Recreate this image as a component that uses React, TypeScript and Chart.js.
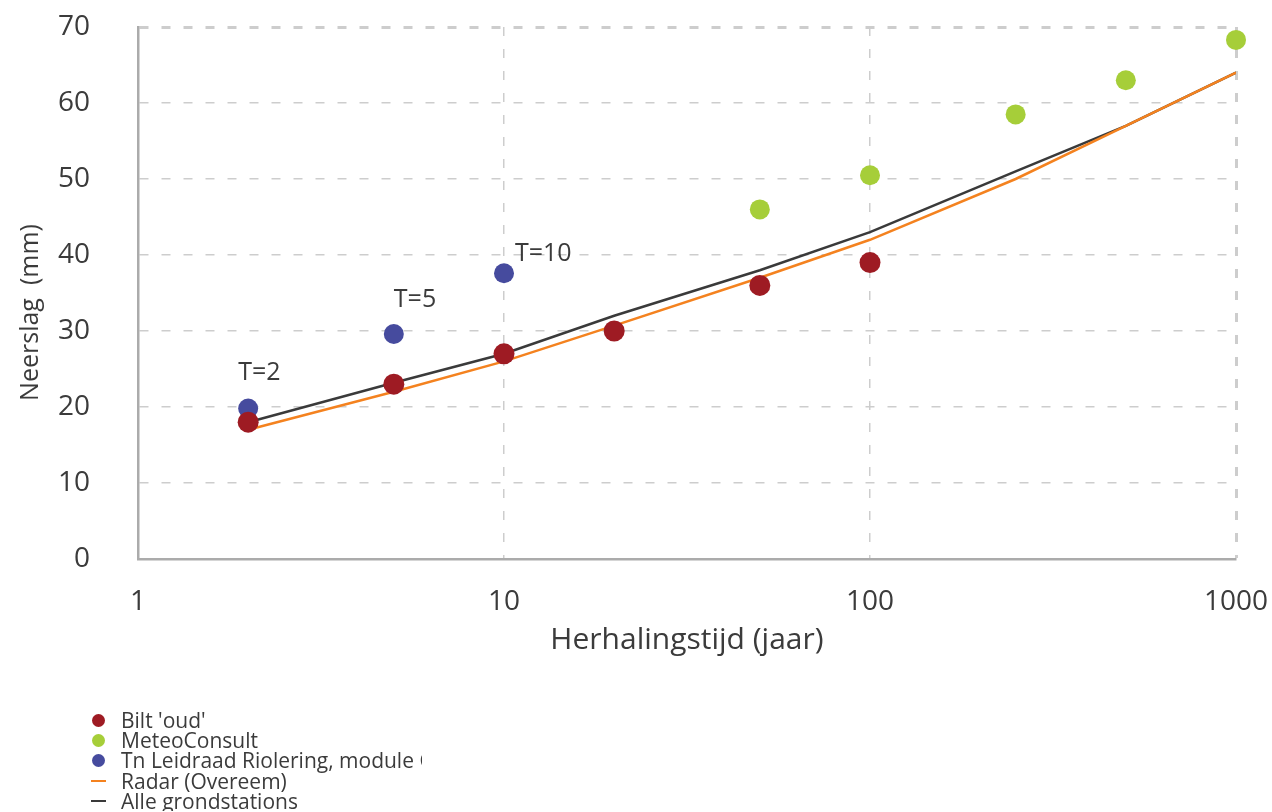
import React, { useEffect, useRef } from 'react';
import { Chart, registerables } from 'chart.js';

Chart.register(...registerables);

// ---- data ----
const biltX = [2, 5, 10, 20, 50, 100];
const biltY = [18, 23, 27, 30, 36, 39];
const meteoX = [50, 100, 250, 500, 1000];
const meteoY = [46, 50.5, 58.5, 63, 68.3];
const tnX = [2, 5, 10];
const tnY = [19.8, 29.6, 37.6];
const radarX = [2, 5, 10, 20, 50, 100, 250, 500, 1000];
const radarY = [17, 22, 26, 30.7, 37, 42, 50, 57, 64];
const alleX = [2, 5, 10, 20, 50, 100, 250, 500, 1000];
const alleY = [18, 23.2, 27, 32, 38, 43, 51, 57, 64];
const xTicks = [1, 10, 100, 1000];
const tLabels = ['T=2', 'T=5', 'T=10'];
const seriesNames = [
  "Bilt 'oud'",
  'MeteoConsult',
  'Tn Leidraad Riolering, module C2100',
  'Radar (Overeem)',
  'Alle grondstations',
];
const seriesColors = ['#9E1B23', '#A6CE39', '#464B9E', '#F4821F', '#3A3A3A'];
const seriesKinds = ['dot', 'dot', 'dot', 'line', 'line'];

const FONT = "'Open Sans', 'Noto Sans', sans-serif";
const TEXT = '#3b3b3b';

const toPts = (xs: number[], ys: number[]) => xs.map((x, i) => ({ x, y: ys[i] }));

const annotPlugin = {
  id: 'tAnnot',
  afterDatasetsDraw(chart: any) {
    const meta = chart.getDatasetMeta(2);
    const offsets = [
      [-10, -36],
      [0, -34],
      [11, -19],
    ];
    const ctx = chart.ctx;
    ctx.save();
    ctx.font = `25px ${FONT}`;
    ctx.fillStyle = TEXT;
    ctx.textAlign = 'left';
    ctx.textBaseline = 'middle';
    tLabels.forEach((t, i) => {
      const el = meta.data[i];
      if (!el) return;
      ctx.fillText(t, el.x + offsets[i][0], el.y + offsets[i][1]);
    });
    ctx.restore();
  },
};

export default function App() {
  const ref = useRef<HTMLCanvasElement | null>(null);

  useEffect(() => {
    document.body.style.margin = '0';
    document.body.style.overflow = 'hidden';
    if (!ref.current) return;
    const gridColor = '#cdcdcd';
    const chart = new Chart(ref.current, {
      type: 'scatter',
      data: {
        datasets: [
          {
            label: seriesNames[0],
            data: toPts(biltX, biltY),
            backgroundColor: seriesColors[0],
            borderWidth: 0,
            pointRadius: 10.5,
            showLine: false,
            clip: false,
          },
          {
            label: seriesNames[1],
            data: toPts(meteoX, meteoY),
            backgroundColor: seriesColors[1],
            borderWidth: 0,
            pointRadius: 10,
            showLine: false,
            clip: false,
          },
          {
            label: seriesNames[2],
            data: toPts(tnX, tnY),
            backgroundColor: seriesColors[2],
            borderWidth: 0,
            pointRadius: 10,
            showLine: false,
            clip: false,
          },
          {
            label: seriesNames[3],
            data: toPts(radarX, radarY),
            borderColor: seriesColors[3],
            backgroundColor: seriesColors[3],
            borderWidth: 2.5,
            pointRadius: 0,
            showLine: true,
            tension: 0,
          },
          {
            label: seriesNames[4],
            data: toPts(alleX, alleY),
            borderColor: seriesColors[4],
            backgroundColor: seriesColors[4],
            borderWidth: 2.5,
            pointRadius: 0,
            showLine: true,
            tension: 0,
          },
        ],
      },
      options: {
        animation: false,
        responsive: true,
        maintainAspectRatio: false,
        layout: { padding: { top: 27, right: 36, bottom: 143, left: 0 } },
        plugins: {
          legend: { display: false },
          tooltip: { enabled: false },
        },
        scales: {
          x: {
            type: 'logarithmic',
            min: 1,
            max: 1000,
            afterBuildTicks: (scale: any) => {
              scale.ticks = xTicks.map((v) => ({ value: v }));
            },
            afterFit: (scale: any) => {
              scale.height = 110;
              scale.paddingLeft = 0;
              scale.paddingRight = 0;
            },
            ticks: {
              callback: (v: any) => String(v),
              color: TEXT,
              font: { family: FONT, size: 28 },
              padding: 26,
              maxRotation: 0,
              autoSkip: false,
            },
            grid: {
              color: gridColor,
              lineWidth: (c: any) => (c.tick && c.tick.value === 1000 ? 3 : 1.5),
              drawTicks: false,
            },
            border: { display: true, color: '#ababab', width: 2.5, dash: [9, 13] },
            title: {
              display: true,
              text: 'Herhalingstijd (jaar)',
              color: TEXT,
              font: { family: FONT, size: 30 },
              padding: { top: 0, bottom: 11 },
            },
          },
          y: {
            type: 'linear',
            min: 0,
            max: 70,
            afterFit: (scale: any) => {
              scale.width = 138;
              scale.paddingTop = 0;
              scale.paddingBottom = 0;
            },
            ticks: {
              stepSize: 10,
              color: TEXT,
              font: { family: FONT, size: 28 },
              padding: 48,
            },
            grid: {
              color: gridColor,
              lineWidth: (c: any) => (c.tick && c.tick.value === 70 ? 3 : 1.5),
              drawTicks: false,
            },
            border: { display: true, color: '#ababab', width: 2.5, dash: [9, 13] },
            title: {
              display: true,
              text: 'Neerslag  (mm)      ',
              color: TEXT,
              font: { family: FONT, size: 25 },
              padding: { top: 16, bottom: 0 },
            },
          },
        },
      },
      plugins: [annotPlugin],
    } as any);
    return () => chart.destroy();
  }, []);

  return (
    <div style={{ position: 'relative', width: 1272, height: 812, fontFamily: FONT }}>
      <canvas ref={ref} />
      <div
        style={{
          position: 'absolute',
          left: 88,
          top: 710,
          width: 334,
          overflow: 'hidden',
          whiteSpace: 'nowrap',
          fontSize: 21,
          lineHeight: '20px',
          color: TEXT,
        }}
      >
        {seriesNames.map((name, i) => (
          <div key={name} style={{ display: 'flex', alignItems: 'center', height: 20.2 }}>
            <span
              style={{
                width: 20,
                height: 20,
                display: 'inline-flex',
                alignItems: 'center',
                justifyContent: 'center',
                marginRight: 13,
                flex: 'none',
              }}
            >
              {seriesKinds[i] === 'dot' ? (
                <span
                  style={{
                    width: 13,
                    height: 13,
                    borderRadius: '50%',
                    background: seriesColors[i],
                    display: 'block',
                  }}
                />
              ) : (
                <span style={{ width: 15, height: 2, background: seriesColors[i], display: 'block' }} />
              )}
            </span>
            <span>{name}</span>
          </div>
        ))}
      </div>
    </div>
  );
}
